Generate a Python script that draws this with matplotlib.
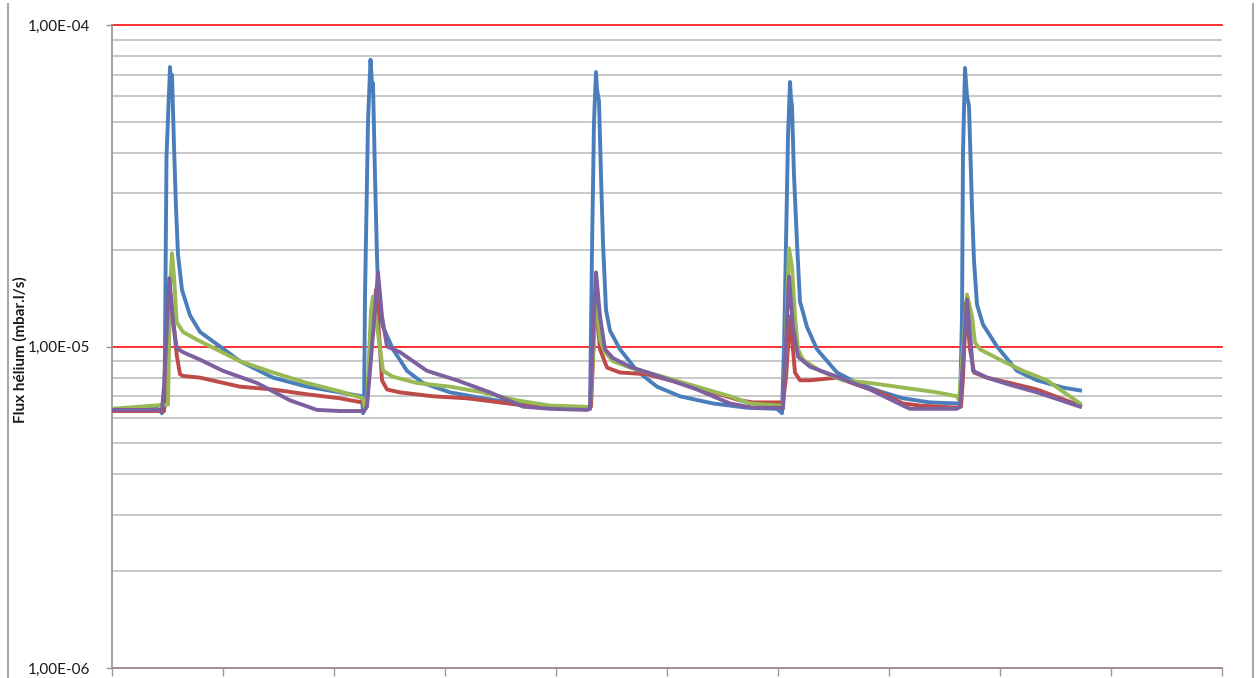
import matplotlib
matplotlib.use("Agg")
import matplotlib.pyplot as plt
from matplotlib.lines import Line2D
from matplotlib.ticker import LogLocator, FixedLocator, FuncFormatter, NullFormatter

# temps (unités arbitraires, 0..1110) et flux hélium (mbar.l/s)
blue_t = [0, 46, 50, 52.5, 54.5, 58, 59, 60, 62, 64, 66, 70, 78, 88, 108, 128, 161, 195, 228, 250,
          251, 252, 253, 256, 258.5, 260, 261, 263, 265, 267, 271, 281, 295, 311, 338, 371, 405, 438, 471,
          478, 480, 482, 484, 485, 487, 489, 491, 494, 498, 508, 525, 545, 568, 601, 635, 665,
          670, 672, 673, 676, 678, 679, 680, 682, 685, 688, 695, 705, 725, 745, 768, 791, 818, 845,
          848, 850, 851, 853, 855, 857, 860, 862, 865, 871, 885, 905, 925, 951, 968]
blue_v = [6.4e-6, 6.4e-6, 6.2e-6, 6.5e-6, 3.9e-5, 7.4e-5, 6.6e-5, 7.0e-5, 4.2e-5, 2.7e-5, 1.93e-5, 1.5e-5,
          1.25e-5, 1.11e-5, 1.0e-5, 9.0e-6, 8.0e-6, 7.5e-6, 7.2e-6, 7.0e-6,
          6.2e-6, 6.3e-6, 1.43e-5, 5.0e-5, 7.8e-5, 6.6e-5, 6.6e-5, 3.4e-5, 1.9e-5, 1.3e-5, 1.15e-5,
          9.8e-6, 8.4e-6, 7.7e-6, 7.2e-6, 6.9e-6, 6.65e-6, 6.5e-6, 6.45e-6,
          6.4e-6, 2.0e-5, 5.0e-5, 7.14e-5, 6.3e-5, 5.8e-5, 3.4e-5, 2.1e-5, 1.3e-5, 1.12e-5, 9.8e-6,
          8.4e-6, 7.5e-6, 7.0e-6, 6.65e-6, 6.45e-6, 6.4e-6,
          6.2e-6, 1.0e-5, 1.43e-5, 4.5e-5, 6.65e-5, 5.9e-5, 5.6e-5, 3.4e-5, 2.1e-5, 1.38e-5, 1.15e-5,
          9.8e-6, 8.3e-6, 7.7e-6, 7.25e-6, 6.9e-6, 6.7e-6, 6.65e-6,
          6.6e-6, 1.24e-5, 4.0e-5, 7.35e-5, 6.0e-5, 5.6e-5, 2.7e-5, 1.85e-5, 1.35e-5, 1.17e-5, 1.0e-5,
          8.4e-6, 7.85e-6, 7.45e-6, 7.3e-6]

red_t = [0, 52, 55, 58.7, 64.7, 68, 71, 88, 128, 161, 195, 228, 250,
         254, 258, 264, 267, 270, 275, 288, 321, 355, 388, 421, 471,
         479, 481, 483, 488, 495, 508, 535, 568, 601, 628, 641, 671,
         674, 678, 683, 688, 698, 725, 745, 768, 791, 808, 845,
         849, 851, 854, 858, 862, 875, 898, 925, 968]
red_v = [6.3e-6, 6.3e-6, 8.0e-6, 1.45e-5, 9.4e-6, 8.2e-6, 8.1e-6, 8.0e-6, 7.5e-6, 7.35e-6, 7.1e-6, 6.9e-6, 6.7e-6,
         6.5e-6, 9.0e-6, 1.5e-5, 1.1e-5, 7.85e-6, 7.35e-6, 7.2e-6, 7.0e-6, 6.9e-6, 6.7e-6, 6.5e-6, 6.45e-6,
         6.5e-6, 9.0e-6, 1.43e-5, 9.8e-6, 8.6e-6, 8.3e-6, 8.2e-6, 7.7e-6, 7.2e-6, 6.8e-6, 6.7e-6, 6.7e-6,
         8.0e-6, 1.24e-5, 8.3e-6, 7.85e-6, 7.85e-6, 8.0e-6, 7.6e-6, 7.2e-6, 6.65e-6, 6.55e-6, 6.45e-6,
         6.5e-6, 8.0e-6, 1.37e-5, 9.8e-6, 8.3e-6, 8.0e-6, 7.7e-6, 7.35e-6, 6.55e-6]

green_t = [0, 56, 58, 60, 62, 64.7, 71, 85, 128, 161, 195, 228, 251,
           253, 255, 259, 261, 266, 271, 281, 305, 338, 371, 405, 438, 471,
           478, 480, 484, 488, 493, 501, 518, 551, 585, 618, 638, 668,
           671, 673, 677, 680, 683, 686, 691, 708, 731, 758, 791, 825, 845,
           847, 850, 855, 860, 863, 868, 891, 911, 935, 968]
green_v = [6.4e-6, 6.6e-6, 1.52e-5, 1.95e-5, 1.65e-5, 1.19e-5, 1.11e-5, 1.05e-5, 9.0e-6, 8.3e-6,
           7.7e-6, 7.25e-6, 6.9e-6,
           6.4e-6, 6.6e-6, 1.3e-5, 1.43e-5, 1.1e-5, 8.4e-6, 8.05e-6, 7.7e-6, 7.5e-6, 7.2e-6, 6.8e-6, 6.55e-6, 6.5e-6,
           6.45e-6, 8.0e-6, 1.5e-5, 1.05e-5, 9.6e-6, 9.0e-6, 8.6e-6, 8.05e-6, 7.5e-6, 7.0e-6, 6.65e-6, 6.55e-6,
           6.5e-6, 9.0e-6, 2.02e-5, 1.77e-5, 1.24e-5, 9.8e-6, 9.1e-6, 8.4e-6, 7.85e-6, 7.7e-6, 7.45e-6, 7.2e-6, 7.0e-6,
           6.8e-6, 9.0e-6, 1.45e-5, 1.24e-5, 1.03e-5, 9.8e-6, 9.0e-6, 8.4e-6, 7.85e-6, 6.65e-6]

purple_t = [0, 50, 52, 57.3, 61, 64.7, 71, 88, 111, 145, 178, 205, 228, 252,
            255, 260, 266, 270, 275, 288, 315, 345, 378, 411, 438, 475,
            478, 480, 484, 488, 493, 501, 518, 551, 585, 618, 641, 668,
            671, 673, 677, 681, 686, 698, 725, 758, 791, 798, 845,
            848, 851, 855, 858, 861, 875, 898, 925, 968]
purple_v = [6.35e-6, 6.35e-6, 7.5e-6, 1.63e-5, 1.19e-5, 9.9e-6, 9.6e-6, 9.1e-6, 8.4e-6, 7.7e-6, 6.8e-6, 6.35e-6,
            6.3e-6, 6.3e-6,
            6.5e-6, 1.0e-5, 1.7e-5, 1.24e-5, 1.0e-5, 9.6e-6, 8.4e-6, 7.85e-6, 7.2e-6, 6.5e-6, 6.4e-6, 6.35e-6,
            6.4e-6, 9.0e-6, 1.7e-5, 1.24e-5, 9.8e-6, 9.2e-6, 8.65e-6, 8.0e-6, 7.35e-6, 6.65e-6, 6.45e-6, 6.45e-6,
            6.4e-6, 9.0e-6, 1.65e-5, 1.15e-5, 9.3e-6, 8.65e-6, 8.05e-6, 7.35e-6, 6.55e-6, 6.4e-6, 6.4e-6,
            6.5e-6, 9.0e-6, 1.4e-5, 1.1e-5, 8.4e-6, 8.0e-6, 7.6e-6, 7.2e-6, 6.5e-6]

y_ticks = [1e-6, 1e-5, 1e-4]
y_labels = ["1,00E-06", "1,00E-05", "1,00E-04"]

fig = plt.figure(figsize=(12.59, 6.78), dpi=100)
ax = fig.add_axes([112 / 1259, 10 / 678, 1110 / 1259, 643 / 678])

ax.plot(blue_t, blue_v, color="#4A7EBB", lw=2.8, zorder=3, solid_joinstyle="round")
ax.plot(red_t, red_v, color="#BE4B48", lw=2.8, zorder=4, solid_joinstyle="round")
ax.plot(green_t, green_v, color="#98B954", lw=2.8, zorder=5, solid_joinstyle="round")
ax.plot(purple_t, purple_v, color="#7D60A0", lw=2.8, zorder=6, solid_joinstyle="round")

ax.set_yscale("log")
ax.set_ylim(1e-6, 1e-4)
ax.set_xlim(0, 1110)

ax.yaxis.set_major_locator(FixedLocator(y_ticks))
ax.yaxis.set_major_formatter(FuncFormatter(lambda v, p: y_labels[y_ticks.index(v)] if v in y_ticks else ""))
ax.yaxis.set_minor_locator(LogLocator(base=10, subs=range(2, 10)))
ax.yaxis.set_minor_formatter(NullFormatter())
ax.set_xticks(range(0, 1111, 111))
ax.set_xticklabels([])

ax.set_axisbelow(True)
ax.grid(True, which="minor", axis="y", color="#C4C4C4", lw=1.3)
for v in y_ticks:
    ax.axhline(v, color="#FF2020", lw=1.3, zorder=1, clip_on=False)

for s in ["top", "right"]:
    ax.spines[s].set_visible(False)
for s in ["left", "bottom"]:
    ax.spines[s].set_color("#9A9A9A")
    ax.spines[s].set_linewidth(1.3)
    ax.spines[s].set_zorder(2.5)

ax.tick_params(axis="y", which="major", length=4, width=1, color="#9A9A9A", pad=12,
               labelsize=11, labelcolor="#1A1A1A")
ax.tick_params(axis="y", which="minor", length=0)
ax.tick_params(axis="x", length=6, width=1, color="#9A9A9A")
for lbl in ax.get_yticklabels():
    lbl.set_family(["Lato", "DejaVu Sans"])

fig.text(20 / 1259, 1 - 350 / 678, "Flux hélium (mbar.l/s)", rotation=90, ha="center", va="center",
         fontsize=11, fontweight="bold", family=["Lato", "DejaVu Sans"], color="#1A1A1A")

# cadre du graphique (bords gauche et droit visibles)
fig.add_artist(Line2D([8 / 1259, 8 / 1259], [0, 1 - 4 / 678], color="#A8A8A8", lw=1.5))
fig.add_artist(Line2D([1253 / 1259, 1253 / 1259], [0, 1 - 4 / 678], color="#A8A8A8", lw=1.5))

fig.savefig("out.png", dpi=100)
